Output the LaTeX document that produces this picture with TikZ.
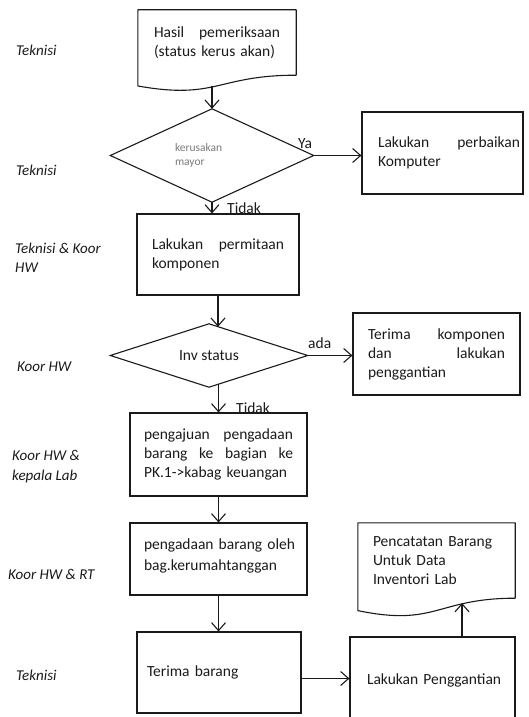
\documentclass[tikz,border=0pt]{standalone}
\usepackage{fontspec}
\setmainfont{Carlito}
\usetikzlibrary{arrows.meta,calc}

\definecolor{ink}{HTML}{1A1A1A}
\definecolor{dimtext}{HTML}{7A7A7A}

\tikzset{
  flow/.style={draw=ink, line width=1.1pt},
  txt/.style={font=\fontsize{15.5}{19}\selectfont, text=ink},
  box/.style={flow, txt, rectangle, inner ysep=0pt, align=left},
  docbox/.style={txt, rectangle, inner ysep=0pt, align=left},
  % decision: the node keeps the rectangle anchors, the outline joins its four sides
  decision/.style={rectangle, inner sep=0pt, text=ink},
  arr/.style={draw=ink, line width=1.1pt, -{Straight Barb[length=8pt,width=14pt]}},
  role/.style={anchor=west, align=left, inner sep=0pt,
    font=\itshape\fontsize{15}{19.5}\selectfont, text=ink},
  tag/.style={txt, inner sep=0pt, anchor=base west},
}

\begin{document}
\begin{tikzpicture}[x=1pt, y=-1pt]
\clip (0,0) rectangle (528,717);

% ---- process column ----
\node[docbox, minimum width=158pt, minimum height=65pt, inner xsep=16pt, text width=126pt]
  (doc1) at (217,42.5) {Hasil\hfill pemeriksaan\\(status kerus akan)};
\draw[flow, line join=round] (doc1.north west) -- (doc1.north east) -- (doc1.south east)
  .. controls (doc1.south) and ($(doc1.north)!1.381!(doc1.south)$)
  .. ($(doc1.north west)!1.1646!(doc1.south west)$) -- cycle;
\coordinate (doc1b) at ($(doc1.north)!1.163!(doc1.south)$);

\node[decision, minimum width=203pt, minimum height=93pt,
  text width=74pt, align=left, text=dimtext, font=\fontsize{11.5}{14}\selectfont]
  (d1) at (212,155.5) {kerusakan\\mayor};
\draw[flow, line join=miter] (d1.north) -- (d1.east) -- (d1.south) -- (d1.west) -- cycle;

\node[box, minimum width=161pt, minimum height=82pt, inner xsep=3pt, text width=155pt]
  (r2) at (442.5,153) {\hspace*{13pt}Lakukan\hfill perbaikan\\\hspace*{13pt}Komputer};

\node[box, minimum width=162pt, minimum height=81pt, inner xsep=15pt, text width=132pt]
  (r3) at (218,254.5) {Lakukan\hfill permitaan\\komponen};

\node[decision, txt, minimum width=197pt, minimum height=63pt]
  (d2) at (209,355.5) {Inv status};
\draw[flow, line join=miter] (d2.north) -- (d2.east) -- (d2.south) -- (d2.west) -- cycle;

\node[box, minimum width=167pt, minimum height=82pt, inner xsep=15pt, text width=137pt]
  (r4) at (436.5,354) {Terima\hfill komponen\\dan\hfill lakukan\\penggantian};

\node[box, minimum width=177pt, minimum height=83pt, inner xsep=14pt, text width=149pt]
  (r5) at (218.5,454.5) {pengajuan\hfill pengadaan\\barang\hfill ke\hfill bagian\hfill ke\\PK.1->kabag keuangan};

\node[box, minimum width=177pt, minimum height=72pt, inner xsep=6pt, text width=165pt,
  font=\fontsize{15.5}{21}\selectfont]
  (r6) at (218.5,559) {\hspace*{8pt}pengadaan barang oleh\\\hspace*{8pt}bag.kerumahtanggan\rule[-9pt]{0pt}{0pt}};

\node[box, minimum width=164pt, minimum height=81pt, inner xsep=10pt, text width=144pt]
  (r7) at (219,672.5) {Terima barang};

\node[box, minimum width=165pt, minimum height=86pt, inner xsep=6pt, text width=153pt]
  (r8) at (432.5,680) {\hspace*{11pt}Lakukan Penggantian};

\node[docbox, minimum width=157pt, minimum height=75pt, inner xsep=15pt, text width=127pt]
  (doc2) at (436.5,560.5) {Pencatatan Barang\\Untuk Data\\Inventori Lab};
\draw[flow, line join=round] (doc2.north west) -- (doc2.north east) -- (doc2.south east)
  .. controls (doc2.south) and ($(doc2.north)!1.381!(doc2.south)$)
  .. ($(doc2.north west)!1.1646!(doc2.south west)$) -- cycle;
\coordinate (doc2b) at (462,603);

% ---- connectors ----
\draw[arr] (doc1b -| d1.north) -- (d1.north);
\draw[arr] (d1.east) -- (r2.west |- d1.east);
\draw[arr] (d1.south) -- (d1.south |- r3.north);
\draw[arr] (r3.south) -- ($(r3.south |- d2.north)+(0,3)$);
\draw[arr] (d2.east) -- (r4.west |- d2.east);
\draw[arr] ($(r5.north |- d2.south)+(0,-3)$) -- (r5.north);
\draw[arr] (r5.south) -- (r6.north);
\draw[arr] (r6.south) -- (r6.south |- r7.north);
\draw[arr] ($(r7.east)+(0,6)$) -- ($(r8.west |- r7.east)+(0,6)$);
\draw[arr] (doc2b |- r8.north) -- (doc2b);

% ---- branch labels ----
\node[tag] (ya) at (298,148) {Ya};
\node[tag] (tidak1) at (227,213) {Tidak};
\node[tag] (ada) at (308,348) {ada};
\node[tag] (tidak2) at (236,413) {Tidak};

% ---- roles ----
\node[role] (role1) at (16,50) {Teknisi};
\node[role] (role2) at (16,170) {Teknisi};
\node[role] (role3) at (15,258) {Teknisi \& Koor\\HW};
\node[role] (role4) at (17,367) {Koor HW};
\node[role] (role5) at (12,466.5) {Koor HW \&\\kepala Lab};
\node[role] (role6) at (8,574) {Koor HW \& RT};
\node[role] (role7) at (16,675) {Teknisi};
\end{tikzpicture}
\end{document}
